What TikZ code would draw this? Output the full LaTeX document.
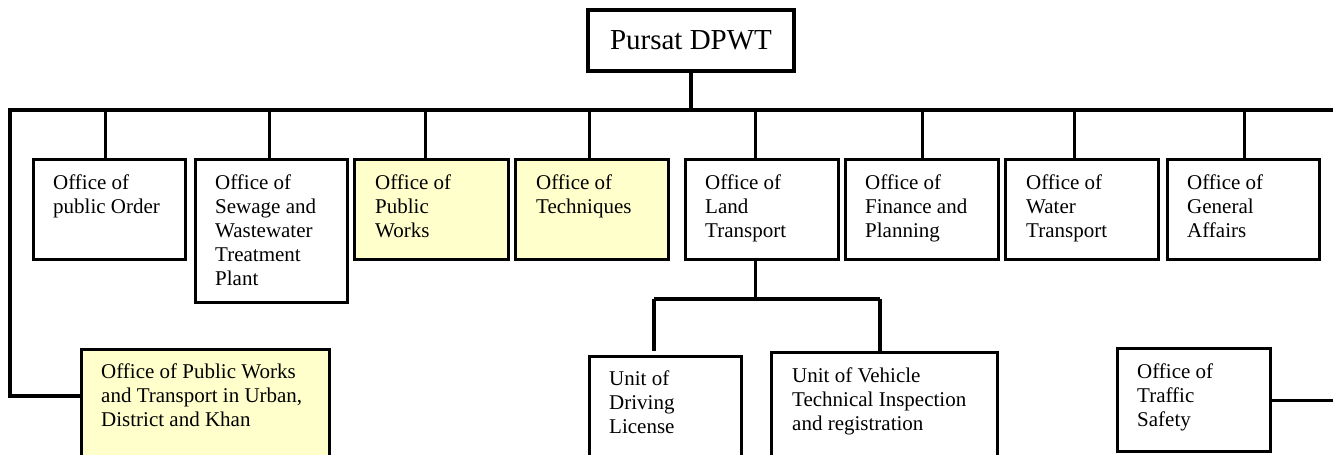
\documentclass[tikz,border=0pt]{standalone}
\usepackage{fontspec}
\setmainfont{Liberation Serif}
\usetikzlibrary{calc}
\definecolor{boxyellow}{HTML}{FFFFCC}
\begin{document}
\begin{tikzpicture}[x=1pt,y=-1pt,
  box/.style={draw=black, line width=3.2pt, fill=white, inner sep=0pt, anchor=north west},
  ybox/.style={box, fill=boxyellow},
  txt/.style={inner sep=0pt, anchor=north west, align=left, font=\fontsize{21}{24}\selectfont},
  wire/.style={draw=black, line width=3.2pt}]
\useasboundingbox (0,0) rectangle (1333,455);
\clip (0,0) rectangle (1333,455);

% top
\node[box, anchor=center, minimum width=206pt, minimum height=61pt,
      font=\fontsize{29}{34}\selectfont] (top) at (691,40.5) {Pursat DPWT};

% first row
\node[box,  minimum width=152pt, minimum height=100pt] (b1) at (32,158) {};
\node[box,  minimum width=152pt, minimum height=143pt] (b2) at (194,158) {};
\node[ybox, minimum width=154pt, minimum height=100pt] (b3) at (353,158) {};
\node[ybox, minimum width=153pt, minimum height=100pt] (b4) at (514,158) {};
\node[box,  minimum width=153pt, minimum height=100pt] (b5) at (684,158) {};
\node[box,  minimum width=153pt, minimum height=100pt] (b6) at (844,158) {};
\node[box,  minimum width=153pt, minimum height=100pt] (b7) at (1004,158) {};
\node[box,  minimum width=152pt, minimum height=100pt] (b8) at (1166,158) {};

\node[txt] (t1) at ([shift={(21pt,-16.5pt)}]b1.north west) {Office of\\public Order};
\node[txt] (t2) at ([shift={(21pt,-16.5pt)}]b2.north west) {Office of\\Sewage and\\Wastewater\\Treatment\\Plant};
\node[txt] (t3) at ([shift={(22pt,-16.5pt)}]b3.north west) {Office of\\Public\\Works};
\node[txt] (t4) at ([shift={(22pt,-16.5pt)}]b4.north west) {Office of\\Techniques};
\node[txt] (t5) at ([shift={(21pt,-16.5pt)}]b5.north west) {Office of\\Land\\Transport};
\node[txt] (t6) at ([shift={(21pt,-16.5pt)}]b6.north west) {Office of\\Finance and\\Planning};
\node[txt] (t7) at ([shift={(22pt,-16.5pt)}]b7.north west) {Office of\\Water\\Transport};
\node[txt] (t8) at ([shift={(21pt,-16.5pt)}]b8.north west) {Office of\\General\\Affairs};

% bottom row
\node[ybox, minimum width=248pt, minimum height=130pt] (urban) at (80,348) {};
\node[box,  minimum width=152pt, minimum height=120pt] (driving) at (588,355) {};
\node[box,  minimum width=226pt, minimum height=125pt] (vehicle) at (770,351) {};
\node[box,  minimum width=153pt, minimum height=103pt] (traffic) at (1116,347) {};

\node[txt] (tu) at ([shift={(21pt,-15.5pt)}]urban.north west) {Office of Public Works\\and Transport in Urban,\\District and Khan};
\node[txt] (td) at ([shift={(21pt,-15.5pt)}]driving.north west) {Unit of\\Driving\\License};
\node[txt] (tv) at ([shift={(22pt,-16.5pt)}]vehicle.north west) {Unit of Vehicle\\Technical Inspection\\and registration};
\node[txt] (tt) at ([shift={(21pt,-16.5pt)}]traffic.north west) {Office of\\Traffic\\Safety};

% bus
\coordinate (busL) at (10,110);
\coordinate (busR) at (1345,110);
\draw[wire] (top.south) -- (top.south |- busL);
\draw[wire] (busR) -- (busL) |- ([yshift=-48pt]urban.north west);
\draw[wire] ([xshift=-4pt]b1.north) -- ([xshift=-4pt]b1.north |- busL);
\draw[wire] ([xshift=-2pt]b2.north) -- ([xshift=-2pt]b2.north |- busL);
\draw[wire] ([xshift=-6pt]b3.north) -- ([xshift=-6pt]b3.north |- busL);
\draw[wire] ([xshift=-2.5pt]b4.north) -- ([xshift=-2.5pt]b4.north |- busL);
\draw[wire] ([xshift=-7pt]b5.north) -- ([xshift=-7pt]b5.north |- busL);
\draw[wire] (b6.north) -- (b6.north |- busL);
\draw[wire] ([xshift=-8pt]b7.north) -- ([xshift=-8pt]b7.north |- busL);
\draw[wire] ([xshift=1pt]b8.north) -- ([xshift=1pt]b8.north |- busL);

% land transport subtree
\coordinate (jl) at (654,299);
\coordinate (jr) at (880,299);
\draw[wire] ([xshift=-6.5pt]b5.south) -- ([xshift=-6.5pt]b5.south |- jl);
\draw[wire] (jl) -- (jr);
\draw[wire] (jl) -- ([yshift=4pt]jl |- driving.north);
\draw[wire] (jr) -- (jr |- vehicle.north);

% traffic safety
\draw[wire] (traffic.east) -- (traffic.east -| busR);
\end{tikzpicture}
\end{document}
